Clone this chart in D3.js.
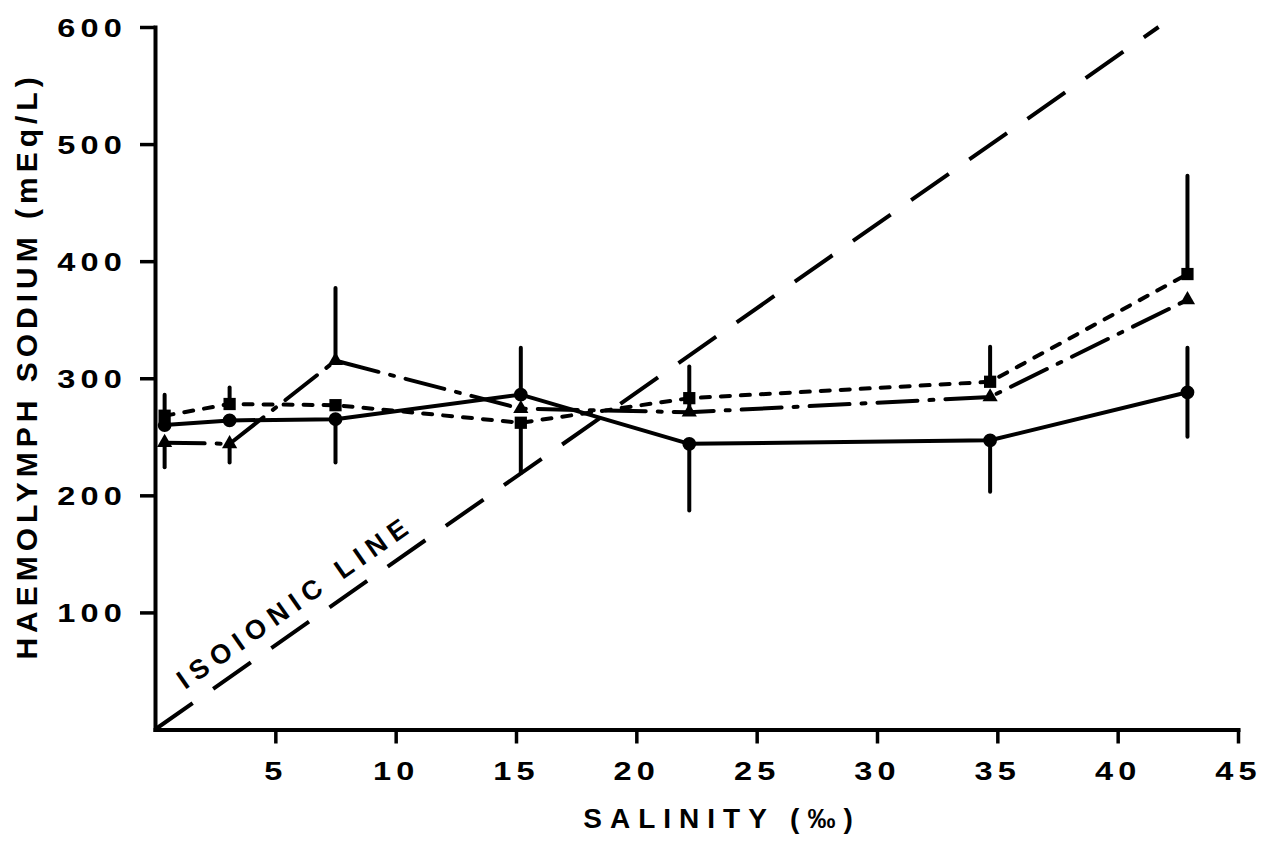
<!DOCTYPE html>
<html>
<head>
<meta charset="utf-8">
<script src="https://cdn.jsdelivr.net/npm/d3@7"></script>
<style>
  body { margin: 0; background: #fff; }
  svg text { font-family: "Liberation Sans", Arial, sans-serif; font-weight: bold; fill: #000; }
</style>
</head>
<body>
<svg id="chart" width="1267" height="842"></svg>
<script>
// Sampling salinities (‰) and mean haemolymph sodium (mEq/L) for each group
const salinity = [0.4, 3.1, 7.5, 15.2, 22.2, 34.7, 42.9];
const sodiumCircle   = [260, 264, 265, 286, 244, 247, 288];
const sodiumSquare   = [268, 278, 277, 262, 283, 297, 389];
const sodiumTriangle = [245, 244, 315, 274, 271, 284, 367];

// Error bar ends (null = no bar drawn on that side)
const circleErrHigh   = [null, null, null, 326, null, null, 326];
const circleErrLow    = [null, null, 228, null, 187, 203, 250];
const squareErrHigh   = [286, 292, null, null, 310, 327, 473];
const squareErrLow    = [null, null, null, 219, null, null, null];
const triangleErrHigh = [null, null, 377, null, 282, null, null];
const triangleErrLow  = [224, 228, null, null, null, null, null];

// Isoionic reference line (medium sodium vs salinity)
const isoionicSalinity = [0, 41.7];
const isoionicSodium   = [0, 600];

const xTicks = [5, 10, 15, 20, 25, 30, 35, 40, 45];
const yTicks = [100, 200, 300, 400, 500, 600];

const svg = d3.select("#chart");
const x = d3.scaleLinear().domain([0, 45]).range([155, 1238]);
const y = d3.scaleLinear().domain([0, 600]).range([729.5, 27]);

const INK = "#000";
const tickScaleX = 1.3;

// ---- axes ----
const gx = svg.append("g").attr("transform", `translate(0,${y(0)})`)
  .call(d3.axisBottom(x).tickValues(xTicks).tickSize(14).tickSizeOuter(0).tickFormat(d3.format("d")));
const gy = svg.append("g").attr("transform", `translate(${x(0)},0)`)
  .call(d3.axisLeft(y).tickValues(yTicks).tickSize(15).tickSizeOuter(0).tickFormat(d3.format("d")));

[gx, gy].forEach(g => {
  g.attr("font-family", null).attr("font-size", null);
  g.select(".domain").attr("stroke", INK).attr("stroke-width", 4).attr("stroke-linecap", "square");
  g.selectAll(".tick line").attr("stroke", INK).attr("stroke-width", 3.5);
  g.selectAll(".tick text")
    .style("font-size", "25px").style("letter-spacing", "4px").style("fill", INK);
});

gx.selectAll(".tick text")
  .attr("y", 42).attr("dy", "0.36em")
  .attr("transform", `scale(${tickScaleX},1)`);
gy.selectAll(".tick text")
  .attr("x", -28 / tickScaleX).attr("dy", "0.36em")
  .attr("transform", `scale(${tickScaleX},1)`);

// ---- axis titles ----
svg.append("text")
  .attr("transform", "translate(37,366) rotate(-90)")
  .attr("text-anchor", "middle")
  .style("font-size", "30px").style("letter-spacing", "5px")
  .text("HAEMOLYMPH SODIUM (mEq/L)");

svg.append("text")
  .attr("x", 722).attr("y", 828)
  .attr("text-anchor", "middle")
  .style("font-size", "28px").style("letter-spacing", "8px")
  .text("SALINITY (‰)");

// ---- isoionic line ----
const isoPts = isoionicSalinity.map((s, i) => [x(s), y(isoionicSodium[i])]);
svg.append("path")
  .attr("d", d3.line()(isoPts))
  .attr("fill", "none").attr("stroke", INK).attr("stroke-width", 4)
  .attr("stroke-dasharray", "46 25");

const isoAngle = Math.atan2(isoPts[1][1] - isoPts[0][1], isoPts[1][0] - isoPts[0][0]) * 180 / Math.PI;
const labelS = 6.4;
const labelV = isoionicSodium[1] * labelS / isoionicSalinity[1];
svg.append("text")
  .attr("transform", `translate(${x(labelS)},${y(labelV)}) rotate(${isoAngle})`)
  .attr("x", 0).attr("y", -15)
  .attr("text-anchor", "middle")
  .style("font-size", "27px").style("letter-spacing", "7px")
  .text("ISOIONIC LINE");

// ---- data series ----
const series = [
  { values: sodiumCircle,   hi: circleErrHigh,   lo: circleErrLow,   dash: null,          marker: "circle" },
  { values: sodiumSquare,   hi: squareErrHigh,   lo: squareErrLow,   dash: "9 11",        marker: "square" },
  { values: sodiumTriangle, hi: triangleErrHigh, lo: triangleErrLow, dash: "40 12 4 12",  marker: "triangle" }
];

const line = d3.line().x(d => x(d[0])).y(d => y(d[1]));

// error bars first, then connecting lines, then markers on top
series.forEach(sr => {
  salinity.forEach((s, i) => {
    [sr.hi[i], sr.lo[i]].forEach(end => {
      if (end == null) return;
      svg.append("line")
        .attr("x1", x(s)).attr("x2", x(s))
        .attr("y1", y(sr.values[i])).attr("y2", y(end))
        .attr("stroke", INK).attr("stroke-width", 4).attr("stroke-linecap", "round");
    });
  });
});

series.forEach(sr => {
  svg.append("path")
    .attr("d", line(salinity.map((s, i) => [s, sr.values[i]])))
    .attr("fill", "none").attr("stroke", INK).attr("stroke-width", 4)
    .attr("stroke-linecap", sr.dash ? "round" : "butt")
    .attr("stroke-linejoin", "round")
    .attr("stroke-dasharray", sr.dash);
});

const symbolType = { circle: d3.symbolCircle, square: d3.symbolSquare, triangle: d3.symbolTriangle };
const symbolSize = { circle: 150, square: 150, triangle: 100 };
series.forEach(sr => {
  svg.append("g").selectAll("path")
    .data(salinity.map((s, i) => [s, sr.values[i]]))
    .join("path")
    .attr("transform", d => `translate(${x(d[0])},${y(d[1])})`)
    .attr("d", d3.symbol(symbolType[sr.marker], symbolSize[sr.marker]))
    .attr("fill", INK);
});
</script>
</body>
</html>
